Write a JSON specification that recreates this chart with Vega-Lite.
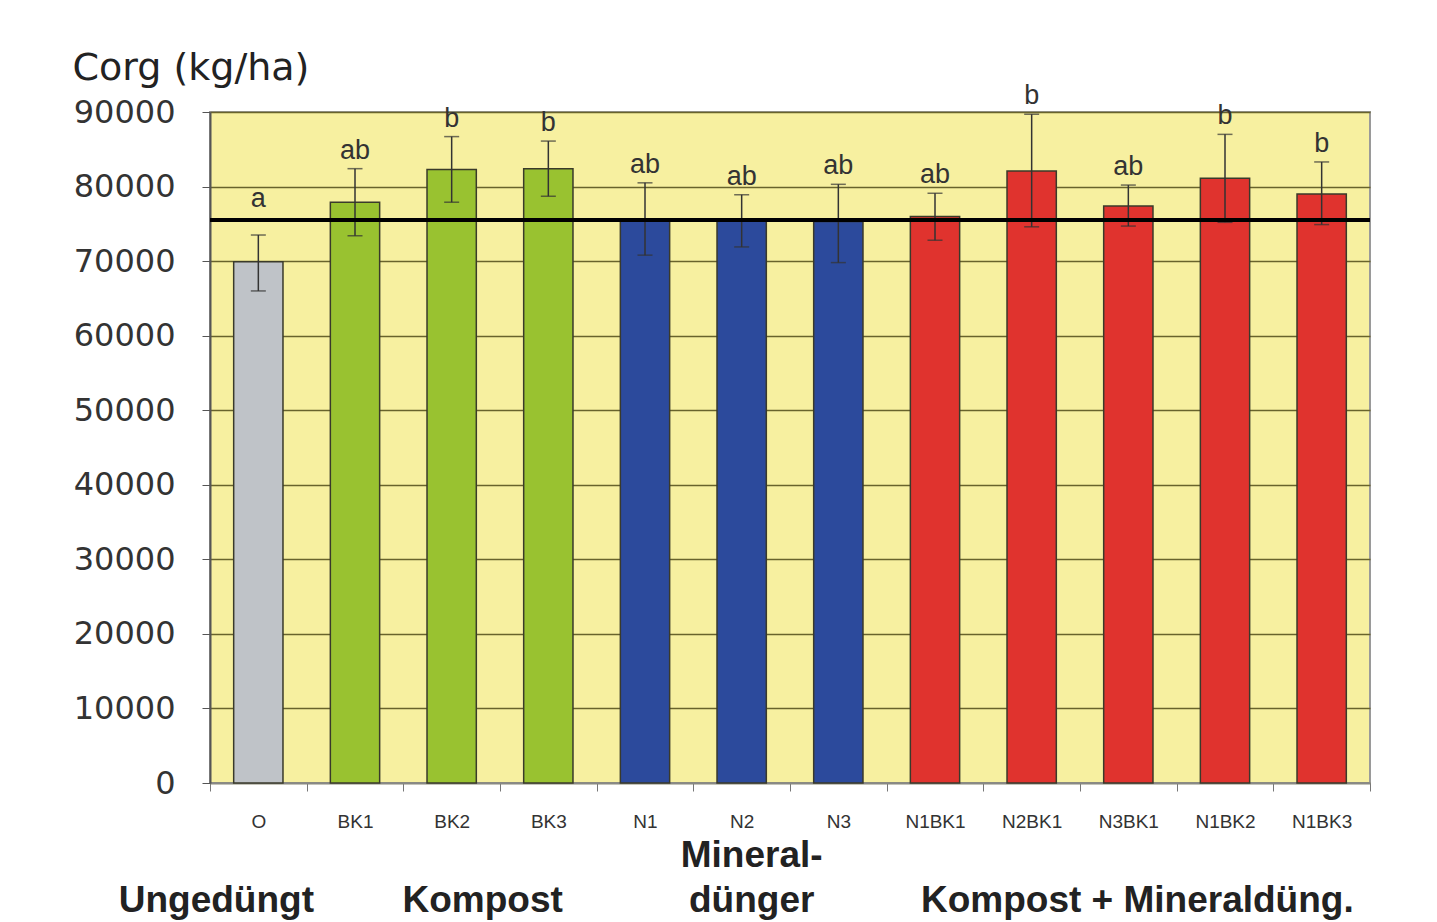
{
  "$schema": "https://vega.github.io/schema/vega-lite/v6.json",
  "autosize": "none",
  "width": 1160,
  "height": 671,
  "padding": {"left": 210, "top": 112, "right": 67, "bottom": 139},
  "background": "white",
  "config": {
    "view": {"fill": "#f7f0a0", "stroke": "#9a9a9a", "strokeWidth": 2},
    "font": "Liberation Sans"
  },
  "data": {
    "values": [
      {"treatment": "O", "group": "Ungedüngt", "mean": 69900, "lo": 66000, "hi": 73500, "sig": "a", "groupLabel": "Ungedüngt", "groupLabelTop": null},
      {"treatment": "BK1", "group": "Kompost", "mean": 77900, "lo": 73400, "hi": 82400, "sig": "ab", "groupLabel": null, "groupLabelTop": null},
      {"treatment": "BK2", "group": "Kompost", "mean": 82300, "lo": 77900, "hi": 86700, "sig": "b", "groupLabel": "Kompost", "groupLabelTop": null},
      {"treatment": "BK3", "group": "Kompost", "mean": 82400, "lo": 78700, "hi": 86100, "sig": "b", "groupLabel": null, "groupLabelTop": null},
      {"treatment": "N1", "group": "Mineraldünger", "mean": 75600, "lo": 70800, "hi": 80500, "sig": "ab", "groupLabel": null, "groupLabelTop": null},
      {"treatment": "N2", "group": "Mineraldünger", "mean": 75400, "lo": 71900, "hi": 78900, "sig": "ab", "groupLabel": "dünger", "groupLabelTop": "Mineral-"},
      {"treatment": "N3", "group": "Mineraldünger", "mean": 75300, "lo": 69800, "hi": 80300, "sig": "ab", "groupLabel": null, "groupLabelTop": null},
      {"treatment": "N1BK1", "group": "Kompost + Mineraldüng.", "mean": 76000, "lo": 72800, "hi": 79100, "sig": "ab", "groupLabel": null, "groupLabelTop": null},
      {"treatment": "N2BK1", "group": "Kompost + Mineraldüng.", "mean": 82100, "lo": 74600, "hi": 89700, "sig": "b", "groupLabel": null, "groupLabelTop": null},
      {"treatment": "N3BK1", "group": "Kompost + Mineraldüng.", "mean": 77400, "lo": 74700, "hi": 80200, "sig": "ab", "groupLabel": "Kompost + Mineraldüng.", "groupLabelTop": null},
      {"treatment": "N1BK2", "group": "Kompost + Mineraldüng.", "mean": 81100, "lo": 75200, "hi": 87000, "sig": "b", "groupLabel": null, "groupLabelTop": null},
      {"treatment": "N1BK3", "group": "Kompost + Mineraldüng.", "mean": 79000, "lo": 74900, "hi": 83300, "sig": "b", "groupLabel": null, "groupLabelTop": null}
    ]
  },
  "layer": [
    {
      "mark": {"type": "bar", "width": {"band": 0.51}, "stroke": "#3a3a2a", "strokeWidth": 1.5},
      "encoding": {
        "x": {
          "field": "treatment", "type": "nominal", "sort": null,
          "scale": {"paddingInner": 0, "paddingOuter": 0},
          "axis": {
            "title": null, "labelAngle": 0, "labelFontSize": 19, "labelColor": "#333",
            "labelPadding": 21, "tickSize": 8, "tickBand": "extent", "tickColor": "#777",
            "domainColor": "#888", "domainWidth": 1.5, "grid": false
          }
        },
        "y": {
          "field": "mean", "type": "quantitative",
          "scale": {"domain": [0, 90000], "nice": false},
          "axis": {
            "title": "Corg (kg/ha)", "titleAngle": 0, "titleAlign": "left", "titleBaseline": "alphabetic",
            "titleX": -138, "titleY": -33, "titleFont": "DejaVu Sans", "titleFontSize": 38,
            "titleFontWeight": "normal", "titleColor": "#222",
            "values": [0, 10000, 20000, 30000, 40000, 50000, 60000, 70000, 80000, 90000],
            "format": "d", "labelFont": "DejaVu Sans", "labelFontSize": 32, "labelColor": "#333",
            "labelPadding": 27, "tickSize": 8, "tickColor": "#555", "domainColor": "#555", "domainWidth": 2,
            "grid": true, "gridColor": "#68632c", "gridWidth": 1.5
          }
        },
        "color": {
          "field": "group", "type": "nominal", "legend": null,
          "scale": {
            "domain": ["Ungedüngt", "Kompost", "Mineraldünger", "Kompost + Mineraldüng."],
            "range": ["#bfc3c8", "#99c230", "#2c4a9c", "#e0332e"]
          }
        }
      }
    },
    {
      "mark": {"type": "rule", "color": "#333", "strokeWidth": 1.5},
      "encoding": {
        "x": {"field": "treatment", "type": "nominal", "sort": null},
        "y": {"field": "lo", "type": "quantitative"},
        "y2": {"field": "hi"}
      }
    },
    {
      "mark": {"type": "tick", "color": "#333", "size": 15, "thickness": 1.5, "orient": "horizontal"},
      "encoding": {
        "x": {"field": "treatment", "type": "nominal", "sort": null},
        "y": {"field": "hi", "type": "quantitative"}
      }
    },
    {
      "mark": {"type": "tick", "color": "#333", "size": 15, "thickness": 1.5, "orient": "horizontal"},
      "encoding": {
        "x": {"field": "treatment", "type": "nominal", "sort": null},
        "y": {"field": "lo", "type": "quantitative"}
      }
    },
    {
      "data": {"values": [{"reference": 75500}]},
      "mark": {"type": "rule", "color": "#000", "strokeWidth": 4},
      "encoding": {
        "y": {"field": "reference", "type": "quantitative"}
      }
    },
    {
      "transform": [{"filter": "datum.treatment != 'O'"}],
      "mark": {"type": "text", "fontSize": 27, "color": "#333", "baseline": "alphabetic", "dy": -10},
      "encoding": {
        "x": {"field": "treatment", "type": "nominal", "sort": null},
        "y": {"field": "hi", "type": "quantitative"},
        "text": {"field": "sig", "type": "nominal"}
      }
    },
    {
      "transform": [{"filter": "datum.treatment == 'O'"}],
      "mark": {"type": "text", "fontSize": 27, "color": "#333", "baseline": "alphabetic", "dy": -28},
      "encoding": {
        "x": {"field": "treatment", "type": "nominal", "sort": null},
        "y": {"field": "hi", "type": "quantitative"},
        "text": {"field": "sig", "type": "nominal"}
      }
    },
    {
      "transform": [{"filter": "datum.treatment == 'O'"}],
      "mark": {
        "type": "text", "fontSize": 37, "fontWeight": "bold", "color": "#222",
        "baseline": "alphabetic", "dy": 129, "xOffset": -42, "clip": false
      },
      "encoding": {
        "x": {"field": "treatment", "type": "nominal", "sort": null},
        "y": {"datum": 0},
        "text": {"field": "groupLabel", "type": "nominal"}
      }
    },
    {
      "transform": [{"filter": "datum.treatment == 'BK2'"}],
      "mark": {
        "type": "text", "fontSize": 37, "fontWeight": "bold", "color": "#222",
        "baseline": "alphabetic", "dy": 129, "xOffset": 31, "clip": false
      },
      "encoding": {
        "x": {"field": "treatment", "type": "nominal", "sort": null},
        "y": {"datum": 0},
        "text": {"field": "groupLabel", "type": "nominal"}
      }
    },
    {
      "transform": [{"filter": "datum.treatment == 'N2'"}],
      "mark": {
        "type": "text", "fontSize": 37, "fontWeight": "bold", "color": "#222",
        "baseline": "alphabetic", "dy": 129, "xOffset": 10, "clip": false
      },
      "encoding": {
        "x": {"field": "treatment", "type": "nominal", "sort": null},
        "y": {"datum": 0},
        "text": {"field": "groupLabel", "type": "nominal"}
      }
    },
    {
      "transform": [{"filter": "datum.treatment == 'N2'"}],
      "mark": {
        "type": "text", "fontSize": 37, "fontWeight": "bold", "color": "#222",
        "baseline": "alphabetic", "dy": 84, "xOffset": 10, "clip": false
      },
      "encoding": {
        "x": {"field": "treatment", "type": "nominal", "sort": null},
        "y": {"datum": 0},
        "text": {"field": "groupLabelTop", "type": "nominal"}
      }
    },
    {
      "transform": [{"filter": "datum.treatment == 'N3BK1'"}],
      "mark": {
        "type": "text", "fontSize": 37, "fontWeight": "bold", "color": "#222",
        "baseline": "alphabetic", "dy": 129, "xOffset": 9, "clip": false
      },
      "encoding": {
        "x": {"field": "treatment", "type": "nominal", "sort": null},
        "y": {"datum": 0},
        "text": {"field": "groupLabel", "type": "nominal"}
      }
    }
  ]
}
